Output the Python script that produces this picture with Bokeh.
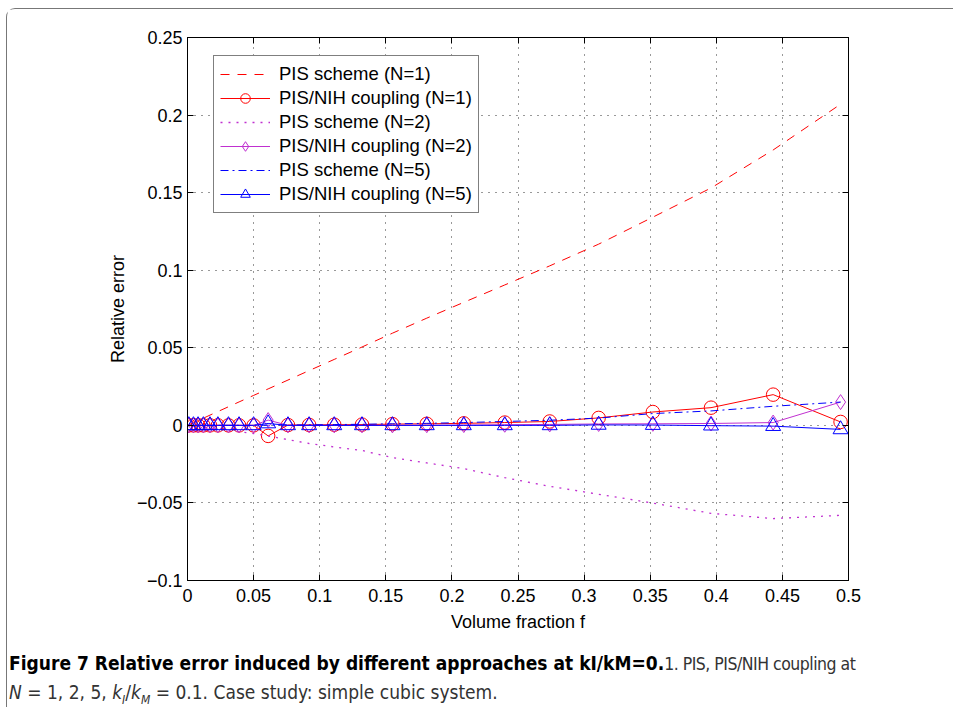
from bokeh.plotting import figure
from bokeh.models import (LinearAxis, FixedTicker, Legend, LegendItem, Div, Range1d)
from bokeh.layouts import column
from bokeh.embed import file_html
from bokeh.resources import INLINE

# ---------------- data ----------------
f = [0.001, 0.0045, 0.008, 0.012, 0.017, 0.023, 0.031, 0.039, 0.05, 0.061,
     0.076, 0.092, 0.111, 0.132, 0.155, 0.181, 0.209, 0.24, 0.274, 0.311,
     0.352, 0.396, 0.443, 0.494]

pis_n1 = [0.0004, 0.0017, 0.0031, 0.0046, 0.0066, 0.0089, 0.0120, 0.0151, 0.0193, 0.0235,
          0.0292, 0.0353, 0.0425, 0.0505, 0.0594, 0.0691, 0.0793, 0.0905, 0.1028, 0.1168,
          0.1342, 0.1530, 0.1775, 0.2070]
cpl_n1 = [0.0, 0.0, 0.0, 0.0, 0.0, 0.0, 0.0, 0.0, 0.0, -0.0068,
          0.0002, 0.0003, 0.0004, 0.0005, 0.0008, 0.0010, 0.0013, 0.0018, 0.0025, 0.0048,
          0.0086, 0.0114, 0.0198, 0.0022]
pis_n2 = [-0.0001, -0.0005, -0.0008, -0.0012, -0.0018, -0.0024, -0.0032, -0.0041, -0.0053, -0.0069,
          -0.0092, -0.0117, -0.0139, -0.0162, -0.0208, -0.0242, -0.0279, -0.0337, -0.0393, -0.0444,
          -0.0501, -0.0567, -0.0601, -0.0580]
cpl_n2 = [0.0, 0.0, 0.0, 0.0, 0.0, 0.0, 0.0, 0.0, 0.0, 0.0034,
          0.0, 0.0, 0.0, 0.0, 0.0, 0.0001, 0.0002, 0.0004, 0.0006, 0.0009,
          0.0010, 0.0012, 0.0018, 0.0150]
pis_n5 = [0.0, 0.0, 0.0, 0.0, 0.0, 0.0, 0.0, 0.0, 0.0, 0.0001,
          0.0002, 0.0003, 0.0005, 0.0007, 0.0010, 0.0013, 0.0018, 0.0025, 0.0033, 0.0047,
          0.0076, 0.0093, 0.0123, 0.0150]
cpl_n5 = [0.0, 0.0, 0.0, 0.0, 0.0, 0.0, 0.0, 0.0, 0.0, 0.0012,
          0.0, 0.0, 0.0, 0.0, 0.0, 0.0, 0.0, 0.0, 0.0, 0.0003,
          0.0002, -0.0002, -0.0005, -0.0026]

x_ticks = [0, 0.05, 0.1, 0.15, 0.2, 0.25, 0.3, 0.35, 0.4, 0.45, 0.5]
x_labels = ["0", "0.05", "0.1", "0.15", "0.2", "0.25", "0.3", "0.35", "0.4", "0.45", "0.5"]
y_ticks = [-0.1, -0.05, 0, 0.05, 0.1, 0.15, 0.2, 0.25]
y_labels = ["\u22120.1", "\u22120.05", "0", "0.05", "0.1", "0.15", "0.2", "0.25"]

legend_labels = ["PIS scheme (N=1)", "PIS/NIH coupling (N=1)", "PIS scheme (N=2)",
                 "PIS/NIH coupling (N=2)", "PIS scheme (N=5)", "PIS/NIH coupling (N=5)"]

RED = "#ff0000"
MAG = "#c030d0"
BLUE = "#0000ff"
FONT = "Liberation Sans"

# ---------------- figure ----------------
p = figure(width=946, height=631, x_range=Range1d(0, 0.5), y_range=Range1d(-0.1, 0.25),
           output_backend="svg", toolbar_location=None,
           min_border_left=180, min_border_right=105, min_border_top=28, min_border_bottom=60)
p.outline_line_color = "black"
p.outline_line_width = 1
p.background_fill_color = "white"
p.border_fill_color = "white"

xt = FixedTicker(ticks=x_ticks)
yt = FixedTicker(ticks=y_ticks)

bottom_ax = p.xaxis[0]
left_ax = p.yaxis[0]
bottom_ax.ticker = xt
bottom_ax.major_label_overrides = {t: l for t, l in zip(x_ticks, x_labels)}
left_ax.ticker = yt
left_ax.major_label_overrides = {t: l for t, l in zip(y_ticks, y_labels)}

top_ax = LinearAxis(ticker=xt, major_label_text_color=None, major_label_text_font_size="8px",
                    major_label_standoff=0)
right_ax = LinearAxis(ticker=yt, major_label_text_color=None, major_label_text_font_size="8px",
                      major_label_standoff=0)
p.add_layout(top_ax, "above")
p.add_layout(right_ax, "right")

for ax in [bottom_ax, left_ax, top_ax, right_ax]:
    ax.axis_line_color = "black"
    ax.major_tick_line_color = "black"
    ax.major_tick_in = 6
    ax.major_tick_out = 0
    ax.minor_tick_line_color = None
    ax.major_label_text_font = FONT
    ax.axis_label_text_font = FONT
    ax.axis_label_text_font_style = "normal"
    ax.axis_label_text_color = "black"

for ax in [bottom_ax, left_ax]:
    ax.major_label_text_color = "black"
    ax.major_label_text_font_size = "18px"
    ax.axis_label_text_font_size = "18px"

bottom_ax.major_label_standoff = 8
left_ax.major_label_standoff = 5
bottom_ax.axis_label = "Volume fraction f"
left_ax.axis_label = "Relative error"
bottom_ax.axis_label_standoff = 7
left_ax.axis_label_standoff = 6

p.xgrid.ticker = xt
p.ygrid.ticker = yt
for g in [p.xgrid, p.ygrid]:
    g.grid_line_color = "#333333"
    g.grid_line_dash = "1 6"
    g.grid_line_width = 1

# ---------------- series ----------------
r1 = p.line(f, pis_n1, line_color=RED, line_width=1, line_dash="9 8")
r2l = p.line(f, cpl_n1, line_color=RED, line_width=1)
r2m = p.scatter(f, cpl_n1, marker="circle", size=13.5, line_color=RED, fill_color=None, line_width=1)
r3 = p.line(f, pis_n2, line_color=MAG, line_width=1.3, line_dash="2 6")
r4l = p.line(f, cpl_n2, line_color=MAG, line_width=1)
r4m = p.scatter(f, cpl_n2, marker="diamond", size=15, line_color=MAG,
                fill_color=None, line_width=1)
r5 = p.line(f, pis_n5, line_color=BLUE, line_width=1, line_dash="8 4 2 4")
r6l = p.line(f, cpl_n5, line_color=BLUE, line_width=1)
r6m = p.scatter(f, cpl_n5, marker="triangle", size=15, line_color=BLUE, fill_color=None, line_width=1)

items = [
    LegendItem(label=legend_labels[0], renderers=[r1]),
    LegendItem(label=legend_labels[1], renderers=[r2l, r2m]),
    LegendItem(label=legend_labels[2], renderers=[r3]),
    LegendItem(label=legend_labels[3], renderers=[r4l, r4m]),
    LegendItem(label=legend_labels[4], renderers=[r5]),
    LegendItem(label=legend_labels[5], renderers=[r6l, r6m]),
]
legend = Legend(items=items, location=(26, 367), glyph_width=50, glyph_height=24,
                label_height=24, label_standoff=9, padding=6, spacing=0, margin=0,
                label_text_font=FONT, label_text_font_size="18.5px", label_text_color="black",
                border_line_color="black", border_line_width=1, background_fill_color="white",
                background_fill_alpha=1.0)
p.add_layout(legend, "center")

caption = Div(
    text=(
        '<div style="font-family: \'Liberation Sans Narrow\', \'DejaVu Sans Condensed\', \'Roboto\', sans-serif;'
        ' line-height: 26px; color: #333; padding: 5px 0 0 0; margin-left: -3px; white-space: nowrap;">'
        '<span style="font-weight: bold; color: #000; font-size: 19px;">Figure 7 Relative error induced by different '
        'approaches at kI/kM=0.</span><span style="font-size: 17.5px; letter-spacing: -0.5px;">1. PIS, PIS/NIH coupling at</span><br>'
        '<span style="font-size: 19px;"><i>N</i> = 1, 2, 5, <i>k</i><sub style="font-size: 12px;"><i>I</i></sub>/<i>k</i>'
        '<sub style="font-size: 12px;"><i>M</i></sub> = 0.1. Case study: simple cubic system.</span>'
        '</div>'
    ),
    width=946, height=67,
)

layout = column(p, caption, spacing=0, margin=(8, 0, 0, 6),
                styles={"border-top": "1px solid #777", "border-left": "1px solid #777",
                        "border-top-left-radius": "9px"})

open("out.html", "w").write(file_html(layout, INLINE))
